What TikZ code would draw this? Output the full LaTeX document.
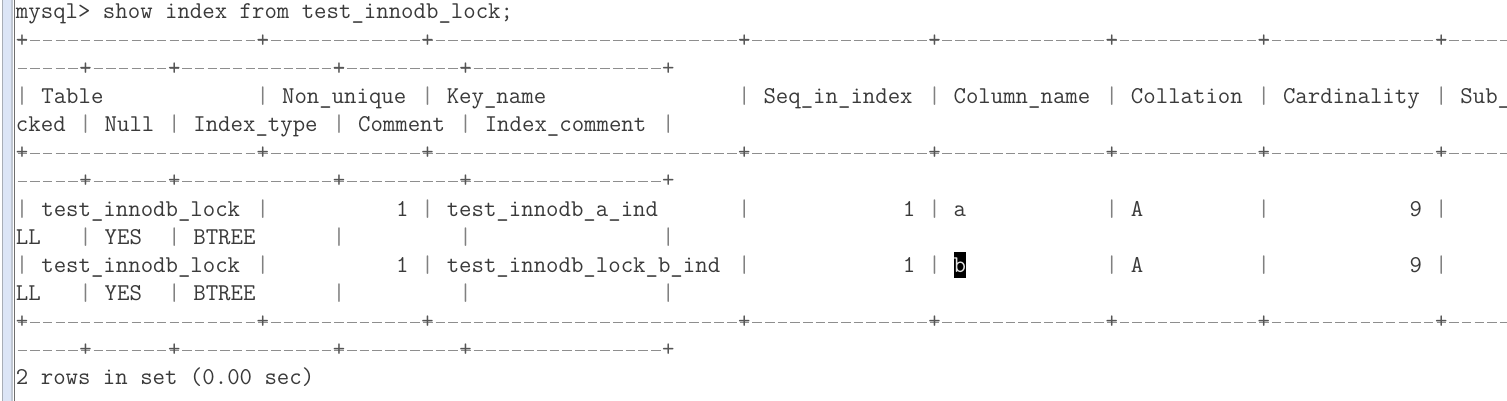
\documentclass[tikz,border=0pt]{standalone}
\usepackage{fontspec}
\definecolor{termtext}{HTML}{3A3A3A}
\definecolor{termbar}{HTML}{808080}
\definecolor{termdash}{HTML}{8E8E8E}
\definecolor{termplus}{HTML}{555555}
\definecolor{edgeblue}{HTML}{DCE5F6}
\definecolor{edgeline}{HTML}{A8ADB6}
\definecolor{edgedark}{HTML}{6E6E6E}
\definecolor{hitext}{HTML}{E4E4E4}
\tikzset{
  txt/.style={anchor=base west, inner sep=0pt, outer sep=0pt,
    font=\fontsize{24.13}{28}\selectfont\ttfamily, text=termtext},
  pipe/.style={txt, text=termbar},
  crossmark/.style={txt, text=termplus},
  dashrow/.style={draw=termdash, line width=1.3pt, dash pattern=on 9.6pt off 3.07pt},
}
\newcommand\tcell[3]{\node[txt] (t#1-#2) at ({16+#2*12.67},{19+28.15*#1}) {#3};}
\begin{document}
\begin{tikzpicture}[x=1pt,y=-1pt]
\useasboundingbox[fill=white] (0,0) rectangle (1507,401);
\begin{scope}
\clip (0,0) rectangle (1507,401);
% left window edge
\fill[edgeblue] (3,0) rectangle (11.5,401);
\draw[edgeline, line width=1pt] (2.5,0) -- (2.5,401);
\draw[edgeblue!70!gray, line width=1.5pt] (12,0) -- (12,401);
\draw[edgedark, line width=1.2pt] (14.6,0) -- (14.6,401);
% separator lines (wrapped in two parts)
\foreach \L in {1,5,11} {
  \coordinate (sa\L) at (17.5,{19+28.15*\L-6.5});
  \coordinate (sb\L) at (1530,{19+28.15*\L-6.5});
  \draw[dashrow] (sa\L) -- (sb\L);
  \foreach \C in {0,19,32,57,72,86,98,112}
    \node[crossmark] (x\L-\C) at ({16+\C*12.67},{19+28.15*\L}) {+};
}
\foreach \L in {2,6,12} {
  \coordinate (sa\L) at (17.5,{19+28.15*\L-6.5});
  \coordinate (sb\L) at (662.2,{19+28.15*\L-6.5});
  \draw[dashrow] (sa\L) -- (sb\L);
  \foreach \C in {5,12,25,35,51}
    \node[crossmark] (x\L-\C) at ({16+\C*12.67},{19+28.15*\L}) {+};
}
% column bars
\foreach \L in {3,7,9}
  \foreach \C in {0,19,32,57,72,86,98,112}
    \node[pipe] (p\L-\C) at ({16+\C*12.67},{19+28.15*\L}) {|};
\foreach \L in {4,8,10}
  \foreach \C in {5,12,25,35,51}
    \node[pipe] (p\L-\C) at ({16+\C*12.67},{19+28.15*\L}) {|};
% command
\tcell{0}{0}{mysql> show index from test\_innodb\_lock;}
% header
\tcell{3}{2}{Table}
\tcell{3}{21}{Non\_unique}
\tcell{3}{34}{Key\_name}
\tcell{3}{59}{Seq\_in\_index}
\tcell{3}{74}{Column\_name}
\tcell{3}{88}{Collation}
\tcell{3}{100}{Cardinality}
\tcell{3}{114}{Sub\_}
\tcell{4}{0}{cked}
\tcell{4}{7}{Null}
\tcell{4}{14}{Index\_type}
\tcell{4}{27}{Comment}
\tcell{4}{37}{Index\_comment}
% row 1
\tcell{7}{2}{test\_innodb\_lock}
\tcell{7}{30}{1}
\tcell{7}{34}{test\_innodb\_a\_ind}
\tcell{7}{70}{1}
\tcell{7}{74}{a}
\tcell{7}{88}{A}
\tcell{7}{110}{9}
\tcell{8}{0}{LL}
\tcell{8}{7}{YES}
\tcell{8}{14}{BTREE}
% row 2
\tcell{9}{2}{test\_innodb\_lock}
\tcell{9}{30}{1}
\tcell{9}{34}{test\_innodb\_lock\_b\_ind}
\tcell{9}{70}{1}
\fill[black] ({16+74*12.67},{19+28.15*9-20.5}) rectangle +(12.67,26.5);
\node[txt, text=hitext] (t9-74) at ({16+74*12.67},{19+28.15*9}) {b};
\tcell{9}{88}{A}
\tcell{9}{110}{9}
\tcell{10}{0}{LL}
\tcell{10}{7}{YES}
\tcell{10}{14}{BTREE}
% footer
\tcell{13}{0}{2 rows in set (0.00 sec)}
\end{scope}
\end{tikzpicture}
\end{document}
